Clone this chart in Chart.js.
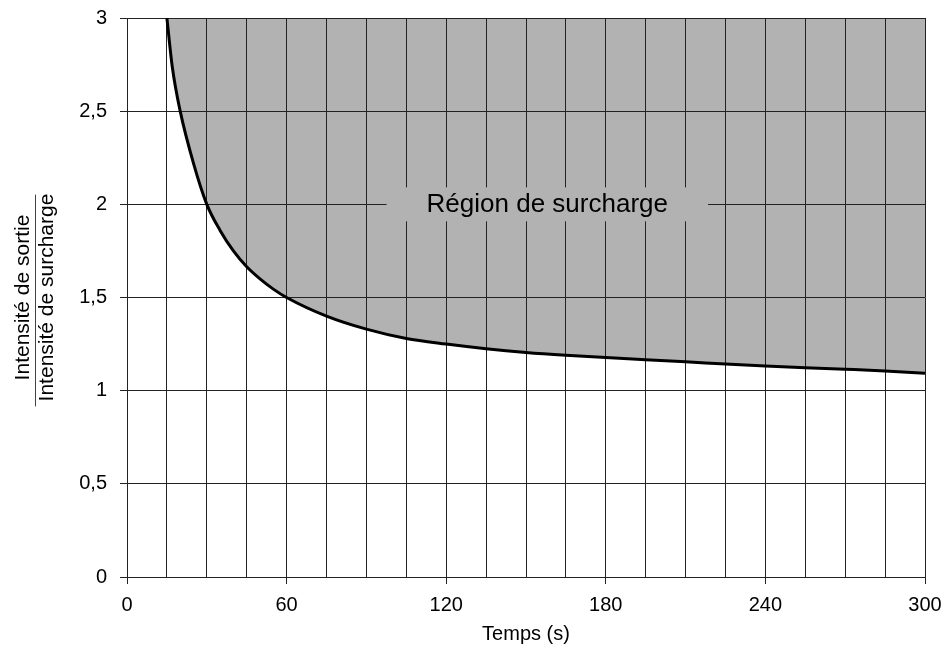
<!DOCTYPE html>
<html lang="fr">
<head>
<meta charset="utf-8">
<title>Région de surcharge</title>
<script src="https://cdn.jsdelivr.net/npm/chart.js@4"></script>
<style>
	html, body { margin: 0; padding: 0; background: #fff; }
	#wrap { width: 947px; height: 646px; }
</style>
</head>
<body>
<div id="wrap"><canvas id="chart" width="947" height="646"></canvas></div>
<script>
// Données
const temps = [15, 17, 20, 25, 30, 35, 40, 45, 50, 55, 60, 75, 90, 105, 120, 135, 150, 165, 180, 195, 210, 225, 240, 255, 270, 285, 300];
const rapport = [3.0, 2.74, 2.5, 2.22, 2.0, 1.86, 1.75, 1.665, 1.6, 1.545, 1.5, 1.4, 1.33, 1.28, 1.25, 1.225, 1.205, 1.19, 1.178, 1.166, 1.155, 1.143, 1.132, 1.123, 1.115, 1.106, 1.093];
const titreX = "Temps (s)";
const titreY = ["Intensité de sortie", "Intensité de surcharge"];
const texteRegion = "Région de surcharge";

// Position de l'étiquette (coordonnées des axes)
const etiquetteX = 158;
const etiquetteY = 2.0;

const police = 'Arial, "Liberation Sans", sans-serif';
const gris = "#b2b2b2";
const trait = "#222";

// Étiquette "Région de surcharge" sur fond gris
const pluginEtiquette = {
	id: "etiquette",
	afterDatasetsDraw(chart) {
		const { ctx, scales } = chart;
		const cx = scales.x.getPixelForValue(etiquetteX);
		const cy = scales.y.getPixelForValue(etiquetteY);
		ctx.save();
		ctx.font = `26px ${police}`;
		const w = ctx.measureText(texteRegion).width + 80;
		ctx.fillStyle = gris;
		ctx.fillRect(cx - w / 2, cy - 17, w, 34);
		ctx.fillStyle = "#000";
		ctx.textAlign = "center";
		ctx.textBaseline = "middle";
		ctx.fillText(texteRegion, cx, cy);
		ctx.restore();
	},
};

// Barre de fraction du titre de l'axe Y
const pluginFraction = {
	id: "fraction",
	afterDraw(chart) {
		const { ctx, chartArea } = chart;
		const yAxe = chart.scales.y;
		const t = yAxe.options.title;
		ctx.save();
		ctx.font = `${t.font.size}px ${police}`;
		const w = Math.max(...titreY.map((s) => ctx.measureText(s).width)) + 4;
		const x = yAxe.left + t.padding.top + 24 + 0.5;
		const mid = (chartArea.top + chartArea.bottom) / 2 + 3;
		ctx.strokeStyle = "#444";
		ctx.lineWidth = 1;
		ctx.beginPath();
		ctx.moveTo(x, mid - w / 2);
		ctx.lineTo(x, mid + w / 2);
		ctx.stroke();
		ctx.restore();
	},
};

const ctx = document.getElementById("chart").getContext("2d");
new Chart(ctx, {
	type: "line",
	data: {
		datasets: [
			{
				data: temps.map((t, i) => ({ x: t, y: rapport[i] })),
				borderColor: "#000",
				borderWidth: 3,
				pointRadius: 0,
				cubicInterpolationMode: "monotone",
				fill: "end",
				backgroundColor: gris,
			},
		],
	},
	options: {
		responsive: false,
		animation: false,
		devicePixelRatio: 1,
		layout: { padding: { top: 18, right: 22, left: 0, bottom: 0 } },
		plugins: {
			legend: { display: false },
			tooltip: { enabled: false },
			filler: { drawTime: "beforeDraw" },
		},
		scales: {
			x: {
				type: "linear",
				min: 0,
				max: 300,
				afterFit: (s) => {
					s.height = 69;
					s.paddingLeft = 0;
					s.paddingRight = 0;
				},
				grid: {
					color: trait,
					lineWidth: 1,
					tickLength: 7,
					tickColor: (c) => (c.tick && c.tick.value % 60 === 0 ? trait : "rgba(0,0,0,0)"),
				},
				border: { color: trait },
				ticks: {
					stepSize: 15,
					autoSkip: false,
					maxRotation: 0,
					padding: 9,
					color: "#000",
					font: { family: police, size: 20 },
					callback: (v) => (v % 60 === 0 ? String(v) : ""),
				},
				title: {
					display: true,
					text: titreX,
					color: "#000",
					font: { family: police, size: 20 },
					padding: { top: 0, bottom: 0 },
				},
			},
			y: {
				min: 0,
				max: 3,
				afterFit: (s) => {
					s.width = 127;
					s.paddingTop = 0;
					s.paddingBottom = 0;
				},
				grid: { color: trait, lineWidth: 1, tickLength: 7, tickColor: trait },
				border: { color: trait },
				ticks: {
					stepSize: 0.5,
					padding: 13,
					color: "#000",
					font: { family: police, size: 20 },
					callback: (v) => String(v).replace(".", ","),
				},
				title: {
					display: true,
					text: titreY,
					color: "#000",
					font: { family: police, size: 21, lineHeight: "24px" },
					padding: { top: 11, bottom: 0 },
				},
			},
		},
	},
	plugins: [pluginEtiquette, pluginFraction],
});
</script>
</body>
</html>
